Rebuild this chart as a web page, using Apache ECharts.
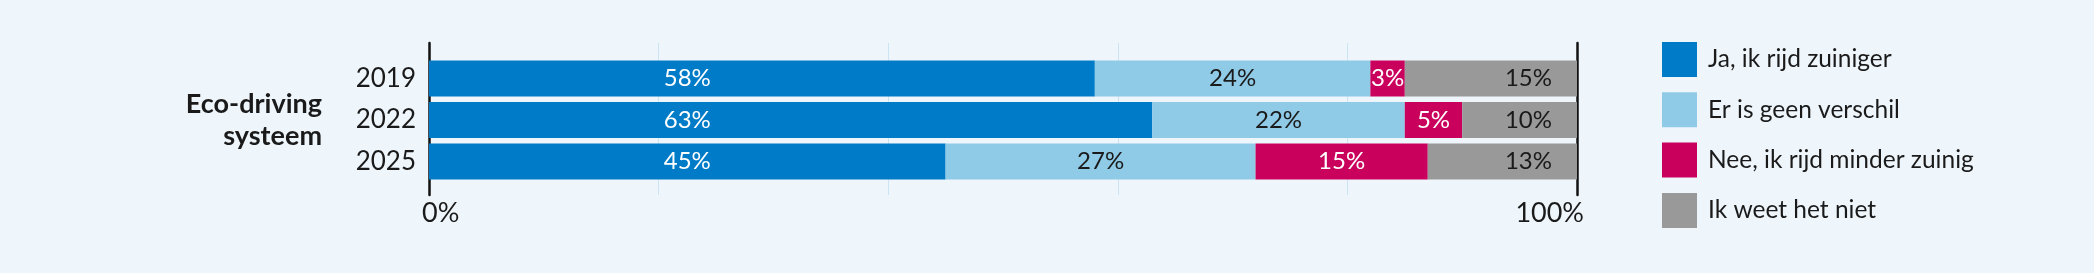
<!DOCTYPE html>
<html>
<head>
<meta charset="utf-8">
<script src="https://cdn.jsdelivr.net/npm/echarts@6/dist/echarts.min.js"></script>
<style>
html,body{margin:0;padding:0;background:#eef6fc;}
#c{width:2094px;height:273px;}
</style>
</head>
<body>
<div id="c"></div>
<script>
const categories = ['2019', '2022', '2025'];
const groupLabel = 'Eco-driving\nsysteem';
const seriesNames = ['Ja, ik rijd zuiniger', 'Er is geen verschil', 'Nee, ik rijd minder zuinig', 'Ik weet het niet'];
const jaZuiniger = [58, 63, 45];
const geenVerschil = [24, 22, 27];
const minderZuinig = [3, 5, 15];
const weetNiet = [15, 10, 13];
const xTicks = [0, 20, 40, 60, 80, 100];

const colors = ['#007bc7', '#8fcae7', '#ca005d', '#999999'];
const labelColors = ['#ffffff', '#1a1a1a', '#ffffff', '#1a1a1a'];
const FONT = 'Lato, "Noto Sans", sans-serif';

const values = [jaZuiniger, geenVerschil, minderZuinig, weetNiet];

const chart = echarts.init(document.getElementById('c'), null, {renderer: 'canvas'});

const series = values.map((v, i) => ({
  name: seriesNames[i],
  type: 'bar',
  stack: 'total',
  xAxisIndex: 0,
  yAxisIndex: 0,
  data: v,
  barCategoryGap: '13%',
  itemStyle: {color: colors[i]},
  label: {
    show: true,
    position: i === 3 ? 'insideRight' : 'inside',
    distance: 25,
    formatter: p => p.value + '%',
    color: labelColors[i],
    fontFamily: FONT,
    fontSize: 24
  },
  emphasis: {disabled: true},
  z: 2
}));

chart.setOption({
  backgroundColor: '#eef6fc',
  animation: false,
  textStyle: {fontFamily: FONT},
  legend: {
    orient: 'vertical',
    left: 1662,
    top: 42,
    padding: 0,
    itemWidth: 35,
    itemHeight: 35,
    itemGap: 15.3,
    icon: 'rect',
    selectedMode: false,
    data: seriesNames,
    textStyle: {fontFamily: FONT, fontSize: 24.5, color: '#1a1a1a', padding: [0, 0, 0, 6]}
  },
  grid: [
    {left: 429, right: 517, top: 57.75, height: 124.5},
    {left: 429, right: 517, top: 43, bottom: 78}
  ],
  xAxis: [
    {gridIndex: 0, type: 'value', min: 0, max: 100, show: false},
    {
      gridIndex: 1, type: 'value', min: 0, max: 100, interval: 20,
      axisLine: {show: false},
      axisTick: {show: false},
      splitLine: {show: true, lineStyle: {color: '#cce3f1', width: 1}},
      axisLabel: {
        show: true,
        margin: 5,
        fontFamily: FONT,
        fontSize: 27,
        color: '#1a1a1a',
        alignMinLabel: 'left',
        alignMaxLabel: 'right',
        padding: [0, -7, 0, -7],
        formatter: v => (v === xTicks[0] || v === xTicks[xTicks.length - 1]) ? v + '%' : ''
      }
    }
  ],
  yAxis: [
    {
      gridIndex: 0, type: 'category', data: categories, inverse: true,
      axisLine: {show: false},
      axisTick: {show: false},
      axisLabel: {margin: 13, fontFamily: FONT, fontSize: 26, color: '#1a1a1a'},
      name: groupLabel,
      nameLocation: 'middle',
      nameRotate: 0,
      nameGap: 107,
      nameTextStyle: {
        fontFamily: FONT, fontSize: 27, fontWeight: 'bold', color: '#1a1a1a',
        align: 'right', verticalAlign: 'middle', lineHeight: 32
      }
    },
    {
      gridIndex: 1, type: 'value', min: 0, max: 1, position: 'left',
      axisLine: {show: true, lineStyle: {color: '#111', width: 2.5}},
      axisTick: {show: false}, axisLabel: {show: false}, splitLine: {show: false}
    },
    {
      gridIndex: 1, type: 'value', min: 0, max: 1, position: 'right',
      axisLine: {show: true, lineStyle: {color: '#111', width: 2.5}},
      axisTick: {show: false}, axisLabel: {show: false}, splitLine: {show: false}
    }
  ],
  series: series
});

// The first series' labels share one x position: the middle of the shortest bar.
const x0 = chart.convertToPixel({xAxisIndex: 0}, 0);
const xMid = chart.convertToPixel({xAxisIndex: 0}, Math.min(...jaZuiniger) / 2);
chart.setOption({
  series: [{
    label: {position: [xMid - x0, '50%'], align: 'center', verticalAlign: 'middle'}
  }]
});
</script>
</body>
</html>
